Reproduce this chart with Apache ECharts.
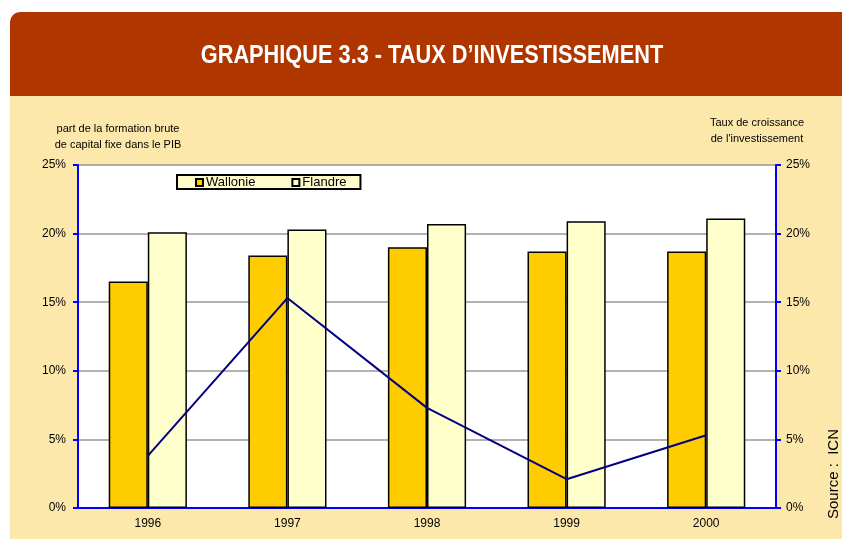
<!DOCTYPE html>
<html>
<head>
<meta charset="utf-8">
<script src="https://cdn.jsdelivr.net/npm/echarts@6/dist/echarts.min.js"></script>
<style>
  html, body { margin: 0; padding: 0; background: #fff; }
  #chart { width: 842px; height: 539px; }
</style>
</head>
<body>
<div id="chart"></div>
<script>
var years = ['1996', '1997', '1998', '1999', '2000'];
var wallonie = [16.5, 18.4, 19.0, 18.7, 18.7];
var flandre = [20.1, 20.3, 20.7, 20.9, 21.1];
var croissance = [3.8, 15.3, 7.3, 2.1, 5.3];

var chart = echarts.init(document.getElementById('chart'));
var axisBlue = '#0000ff';
var labelStyle = { color: '#000', fontSize: 12, fontFamily: 'Liberation Sans, Arial, sans-serif' };

chart.setOption({
  animation: false,
  graphic: [
    // peach panel
    { type: 'rect', z: -10, shape: { x: 10, y: 95, width: 832, height: 444 }, style: { fill: '#fde8ac' } },
    // title banner
    { type: 'rect', z: -9, shape: { x: 10, y: 12, width: 840, height: 84, r: [10, 0, 0, 0] }, style: { fill: '#b03600' } },
    {
      type: 'text', x: 432, y: 56, scaleX: 0.87, z: 5,
      style: { text: 'GRAPHIQUE 3.3 - TAUX D\u2019INVESTISSEMENT', fill: '#fff',
        align: 'center', verticalAlign: 'middle',
        font: 'bold 25px "Liberation Sans", Arial, sans-serif' }
    },
    {
      type: 'text', x: 118, y: 121, z: 5,
      style: { text: 'part de la formation brute\nde capital fixe dans le PIB', fill: '#000',
        align: 'center', lineHeight: 16, font: '11px "Liberation Sans", Arial, sans-serif' }
    },
    {
      type: 'text', x: 757, y: 115, z: 5,
      style: { text: 'Taux de croissance\nde l\'investissement', fill: '#000',
        align: 'center', lineHeight: 16, font: '11px "Liberation Sans", Arial, sans-serif' }
    },
    {
      type: 'text', x: 826, y: 519, rotation: Math.PI / 2, z: 5,
      style: { text: 'Source :  ICN', fill: '#000', font: '15px "Liberation Sans", Arial, sans-serif' }
    }
  ],
  legend: {
    left: 177, top: 175,
    data: ['Wallonie', 'Flandre'],
    backgroundColor: '#fffccc',
    borderColor: '#000', borderWidth: 2,
    padding: [1, 14, 0, 18],
    itemGap: 36,
    itemWidth: 7, itemHeight: 7,
    icon: 'rect',
    textStyle: { color: '#000', fontSize: 13, fontFamily: 'Liberation Sans, Arial, sans-serif', padding: [0, 0, 0, -2] }
  },
  grid: { left: 78, right: 66, top: 165, bottom: 31, show: true, backgroundColor: '#fff', borderWidth: 0 },
  xAxis: {
    type: 'category',
    data: years,
    axisLine: { lineStyle: { color: axisBlue, width: 2 } },
    axisTick: { lineStyle: { color: axisBlue, width: 2 }, length: 5 },
    axisLabel: Object.assign({ margin: 10 }, labelStyle)
  },
  yAxis: [
    {
      type: 'value', min: 0, max: 25, interval: 5,
      axisLine: { show: true, lineStyle: { color: axisBlue, width: 2 } },
      axisTick: { show: true, lineStyle: { color: axisBlue, width: 2 }, length: 5 },
      axisLabel: Object.assign({ formatter: '{value}%', margin: 12 }, labelStyle),
      splitLine: { lineStyle: { color: '#999', width: 1.5 } }
    },
    {
      type: 'value', min: 0, max: 25, interval: 5,
      axisLine: { show: true, lineStyle: { color: axisBlue, width: 2 } },
      axisTick: { show: true, lineStyle: { color: axisBlue, width: 2 }, length: 5 },
      axisLabel: Object.assign({ formatter: '{value}%', margin: 10 }, labelStyle),
      splitLine: { show: false }
    }
  ],
  series: [
    {
      name: 'Wallonie', type: 'bar', data: wallonie,
      barGap: '0%', barCategoryGap: '44%',
      itemStyle: { color: '#ffcc00', borderColor: '#000', borderWidth: 1.5 }
    },
    {
      name: 'Flandre', type: 'bar', data: flandre,
      itemStyle: { color: '#ffffcc', borderColor: '#000', borderWidth: 1.5 }
    },
    {
      name: 'Croissance', type: 'line', yAxisIndex: 1, data: croissance,
      symbol: 'none', z: 10,
      lineStyle: { color: '#000080', width: 2 }
    }
  ]
});
</script>
</body>
</html>
